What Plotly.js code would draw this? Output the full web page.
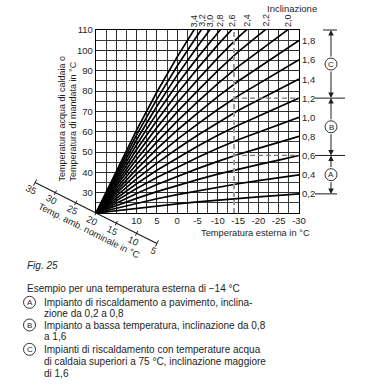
<!DOCTYPE html>
<html><head><meta charset="utf-8">
<script src="https://cdn.plot.ly/plotly-3.0.1.min.js"></script>
<style>html,body{margin:0;padding:0;background:#fff;} #chart{width:370px;height:385px;}</style>
</head><body><div id="chart"></div>
<script>
// ---- data ----
const outdoorTemps = [20, 15, 10, 5, 0, -5, -10, -15, -20, -25, -30];
const slope02 = [20, 21.2, 22.4, 23.5, 24.5, 25.5, 26.4, 27.2, 27.9, 28.7, 29.4];
const slope04 = [20, 22.4, 24.8, 27.0, 29.0, 30.9, 32.7, 34.4, 35.9, 37.4, 38.8];
const slope06 = [20, 23.7, 27.2, 30.5, 33.6, 36.4, 39.1, 41.6, 43.8, 46.0, 48.3];
const slope08 = [20, 24.9, 29.6, 34.0, 38.1, 41.8, 45.4, 48.8, 51.8, 54.7, 57.7];
const slope10 = [20, 26.1, 32.0, 37.5, 42.6, 47.3, 51.8, 56.0, 59.7, 63.4, 67.1];
const slope12 = [20, 27.3, 34.4, 41.0, 47.1, 52.8, 58.2, 63.2, 67.6, 72.1, 76.5];
const slope14 = [20, 28.5, 36.8, 44.5, 51.6, 58.2, 64.5, 70.4, 75.6, 80.8, 85.9];
const slope16 = [20, 29.8, 39.2, 48.0, 56.2, 63.7, 70.9, 77.6, 83.5, 89.4, 95.4];
const slope18 = [20, 31.0, 41.6, 51.5, 60.7, 69.1, 77.2, 84.8, 91.5, 98.1, 104.8];
const slope20 = [20, 32.2, 44.0, 55.0, 65.2, 74.6, 83.6, 92.0, 99.4, 106.8, 114.2];
const slope22 = [20, 33.4, 46.4, 58.5, 69.7, 80.1, 90.0, 99.2, 107.3, 115.5];
const slope24 = [20, 34.6, 48.8, 62.0, 74.2, 85.5, 96.3, 106.4, 115.3];
const slope26 = [20, 35.9, 51.2, 65.5, 78.8, 91.0, 102.7, 113.6];
const slope28 = [20, 37.1, 53.6, 69.0, 83.3, 96.4, 109.0, 120.8];
const slope30 = [20, 38.3, 56.0, 72.5, 87.8, 101.9, 115.4];
const slope32 = [20, 39.5, 58.4, 76.0, 92.3, 107.4, 121.8];
const slope34 = [20, 40.7, 60.8, 79.5, 96.8, 112.8];
const slopes = [0.2, 0.4, 0.6, 0.8, 1.0, 1.2, 1.4, 1.6, 1.8, 2.0, 2.2, 2.4, 2.6, 2.8, 3.0, 3.2, 3.4];
const supplyCurves = [slope02, slope04, slope06, slope08, slope10, slope12, slope14, slope16, slope18,
                      slope20, slope22, slope24, slope26, slope28, slope30, slope32, slope34];
const xTickVals = [20, 15, 10, 5, 0, -5, -10, -15, -20, -25, -30];
const xTickText = ['', '', '10', '5', '0', '-5', '-10', '-15', '-20', '-25', '-30'];
const yTickVals = [20, 30, 40, 50, 60, 70, 80, 90, 100, 110];
const yTickText = ['', '30', '40', '50', '60', '70', '80', '90', '100', '110'];
const roomTemps = [35, 30, 25, 20, 15, 10, 5];
const exampleOutdoor = -14;
const groupBoundSlopes = [0.2, 0.6, 1.2];
const groupLetters = ['A', 'B', 'C'];

// ---- geometry ----
const W = 370, H = 385;
const L = 96, T = 30, PW = 203, PH = 183;
const xRange = [20, -30], yRange = [20, 110];
const FONT = 'Liberation Sans, Arial, sans-serif';
const INK = '#1e1e1e';
const pxX = p => (p - L) / PW;                 // pixel -> paper
const pxY = p => (T + PH - p) / PH;
const dX = x => (x - xRange[0]) / (xRange[1] - xRange[0]); // data -> paper
const dY = y => (y - yRange[0]) / (yRange[1] - yRange[0]);
const yPx = y => T + PH - dY(y) * PH;          // data -> pixel
const fmt = s => s.toFixed(1).replace('.', ',');

const traces = supplyCurves.map((vals, i) => ({
  type: 'scatter', mode: 'lines',
  x: outdoorTemps.slice(0, vals.length), y: vals,
  line: {color: '#000', width: 1.7}, hoverinfo: 'skip'
}));

function crossing(xs, ys, level) {
  for (let i = 0; i < ys.length - 1; i++) {
    if (ys[i] <= level && ys[i + 1] > level)
      return xs[i] + (level - ys[i]) * (xs[i + 1] - xs[i]) / (ys[i + 1] - ys[i]);
  }
  return null;
}

const shapes = [];
const annotations = [];
const txt = (x, y, text, o = {}) => Object.assign({
  xref: 'paper', yref: 'paper', x: pxX(x), y: pxY(y), text, showarrow: false,
  xanchor: 'left', yanchor: 'middle', font: {family: FONT, size: 9, color: INK}
}, o);

// slope labels
slopes.forEach((s, i) => {
  const vals = supplyCurves[i];
  const last = vals[vals.length - 1];
  if (last <= yRange[1]) {
    annotations.push({xref: 'paper', yref: 'y', x: 1, y: last, xanchor: 'left', yanchor: 'middle',
      xshift: 1, text: fmt(s), showarrow: false, font: {family: FONT, size: 9.5, color: INK}});
  } else {
    const cx = crossing(outdoorTemps, vals, yRange[1]);
    annotations.push({xref: 'x', yref: 'paper', x: cx, y: 1, xanchor: 'center', yanchor: 'bottom',
      xshift: 0, yshift: 1, textangle: -90, text: fmt(s), showarrow: false,
      font: {family: FONT, size: 9, color: INK}});
  }
});
annotations.push(txt(292, 8, 'Inclinazione', {xanchor: 'center', font: {family: FONT, size: 9.5, color: INK}}));

// axis titles
annotations.push(txt(67.5, 119, 'Temperatura acqua di caldaia o<br>Temperatura di mandata in °C',
  {xanchor: 'center', textangle: -90, align: 'left', font: {family: FONT, size: 9, color: INK}}));
annotations.push(txt(312, 233, 'Temperatura esterna in °C', {xanchor: 'right', font: {family: FONT, size: 9.3, color: INK}}));

// example dashed lines
const endOf = s => { const v = supplyCurves[slopes.indexOf(s)]; return v[v.length - 1]; };
shapes.push({type: 'line', xref: 'x', yref: 'y', x0: exampleOutdoor, x1: exampleOutdoor, y0: yRange[0], y1: yRange[1],
  line: {color: '#9a9a9a', width: 2, dash: '5px,3px'}});
[1.2, 0.6].forEach(s => shapes.push({type: 'line', xref: 'x', yref: 'y', x0: exampleOutdoor, x1: xRange[1],
  y0: endOf(s), y1: endOf(s), line: {color: '#777', width: 1.2, dash: '5px,3px'}}));

// room temperature diagonal axis (line y = x in data units)
const ang = Math.atan2(PH / 90, PW / 50);  // screen angle of the line
const ux = Math.cos(ang), uy = Math.sin(ang);
const nx = -uy, ny = ux; // perpendicular, down-left on screen
const rtMax = Math.max(...roomTemps), rtMin = Math.min(...roomTemps);
shapes.push({type: 'line', xref: 'paper', yref: 'paper', x0: dX(rtMax), y0: dY(rtMax), x1: dX(rtMin), y1: dY(rtMin),
  line: {color: INK, width: 1.2}});
roomTemps.forEach(rt => {
  const len = (rt === rtMax || rt === rtMin) ? 3.5 : 2.5;
  const bx = dX(rt), by = dY(rt);
  shapes.push({type: 'line', xref: 'paper', yref: 'paper',
    x0: bx + nx * len / PW, y0: by - ny * len / PH, x1: bx - nx * len / PW, y1: by + ny * len / PH,
    line: {color: INK, width: 1}});
  annotations.push({xref: 'paper', yref: 'paper', x: bx, y: by, xshift: nx * 8, yshift: -ny * 8,
    xanchor: 'center', yanchor: 'middle', textangle: ang * 180 / Math.PI, text: String(rt), showarrow: false,
    font: {family: FONT, size: 9.5, color: INK}});
});
annotations.push({xref: 'paper', yref: 'paper', x: dX(20), y: dY(20), xshift: nx * 19 + ux * 2, yshift: -(ny * 19 + uy * 2),
  xanchor: 'center', yanchor: 'middle', textangle: ang * 180 / Math.PI, text: 'Temp. amb. nominale in °C',
  showarrow: false, font: {family: FONT, size: 9.3, color: INK}});

// brackets A, B, C
const BX = 331;
const bounds = groupBoundSlopes.map(endOf).concat([yRange[1]]);
const hLine = (x0, x1, y) => shapes.push({type: 'line', xref: 'paper', yref: 'paper',
  x0: pxX(x0), x1: pxX(x1), y0: dY(y), y1: dY(y), line: {color: INK, width: 1}});
hLine(315, 337, bounds[0]);
hLine(315, 345, bounds[1]);
hLine(315, 345, bounds[2]);
hLine(323, 337, bounds[3]);
const circle = (cx, cy, r) => shapes.push({type: 'circle', xref: 'paper', yref: 'paper',
  x0: pxX(cx - r), x1: pxX(cx + r), y0: pxY(cy + r), y1: pxY(cy - r),
  line: {color: INK, width: 0.9}, fillcolor: '#fff'});
groupLetters.forEach((letter, i) => {
  const lo = bounds[i], hi = bounds[i + 1];
  const midPx = (yPx(lo) + yPx(hi)) / 2;
  [hi, lo].forEach(tip => {
    const tipPx = yPx(tip);
    annotations.push({xref: 'paper', yref: 'paper', x: pxX(BX), y: dY(tip), ax: 0, ay: midPx - tipPx,
      axref: 'pixel', ayref: 'pixel', showarrow: true, text: '', arrowhead: 2, arrowsize: 1.1,
      arrowwidth: 1, arrowcolor: INK, startstandoff: 6, standoff: 0});
  });
  circle(BX, midPx, 6);
  annotations.push(txt(BX, midPx + 0.3, letter, {xanchor: 'center', font: {family: FONT, size: 8, color: INK}}));
});

// caption text
const BODY = {family: FONT, size: 10, color: INK};
annotations.push(txt(25, 265, '<i>Fig. 25</i>', {font: BODY}));
annotations.push(txt(25, 288.3, 'Esempio per una temperatura esterna di −14 °C', {font: BODY}));
const bodyLines = [
  [302.3, 'Impianto di riscaldamento a pavimento, inclina-'],
  [313, 'zione da 0,2 a 0,8'],
  [325, 'Impianto a bassa temperatura, inclinazione da 0,8'],
  [336.8, 'a 1,6'],
  [349.3, 'Impianti di riscaldamento con temperature acqua'],
  [361.3, 'di caldaia superiori a 75 °C, inclinazione maggiore'],
  [373.5, 'di 1,6']
];
bodyLines.forEach(([y, t]) => annotations.push(txt(42, y, t, {font: BODY})));
[[302.3, 'A'], [325, 'B'], [349.3, 'C']].forEach(([y, l]) => {
  circle(29.5, y, 6);
  annotations.push(txt(29.5, y + 0.3, l, {xanchor: 'center', font: {family: FONT, size: 8, color: INK}}));
});

const axisCommon = {
  ticks: '', showgrid: true, gridcolor: '#2a2a2a', gridwidth: 1, zeroline: false,
  showline: true, linecolor: '#000', linewidth: 1.2, mirror: true, fixedrange: true,
  tickfont: {family: FONT, size: 9.5, color: INK}
};
const layout = {
  width: W, height: H, margin: {l: L, r: W - L - PW, t: T, b: H - T - PH, pad: 0},
  paper_bgcolor: '#fff', plot_bgcolor: '#fff', showlegend: false,
  xaxis: Object.assign({}, axisCommon, {range: xRange, tickmode: 'array', tickvals: xTickVals, ticktext: xTickText,
    ticklabelstandoff: -2,
    minor: {tick0: 0, dtick: 2.5, showgrid: true, gridcolor: '#3a3a3a', gridwidth: 1, ticks: ''}}),
  yaxis: Object.assign({}, axisCommon, {range: yRange, tickmode: 'array', tickvals: yTickVals, ticktext: yTickText,
    minor: {tick0: 0, dtick: 5, showgrid: true, gridcolor: '#3a3a3a', gridwidth: 1, ticks: ''}}),
  shapes, annotations
};
Plotly.newPlot('chart', traces, layout, {staticPlot: true, displayModeBar: false});
</script></body></html>
